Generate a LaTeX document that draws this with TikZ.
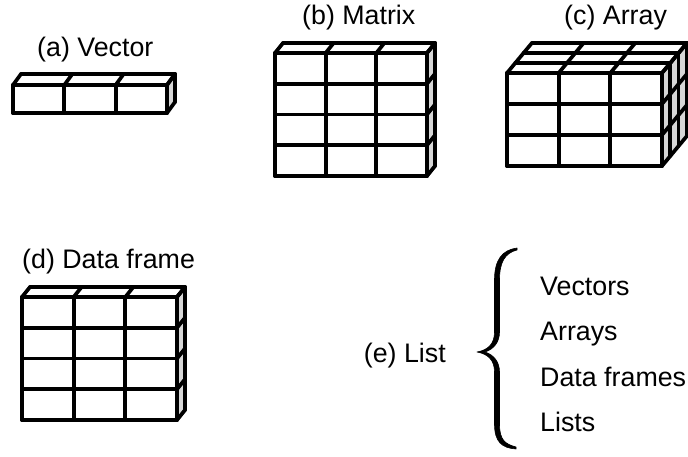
\documentclass[tikz,border=0pt]{standalone}
\usepackage{fontspec}
\setmainfont{Liberation Sans}
\definecolor{sidegray}{RGB}{215,215,215}
\tikzset{
  gridline/.style={line width=3.7pt, line join=round, line cap=round, black},
  lbl/.style={inner sep=0pt, font=\fontsize{26.8}{30}\selectfont},
  bracefill/.style={fill=black, draw=black, line width=0.6pt, line join=round}
}
% #1 x0, #2 y0, #3 width, #4 height, #5 cols, #6 rows, #7 layers, #8 dx per layer, #9 dy per layer
\newcommand{\cubegrid}[9]{%
  \pgfmathsetmacro\cw{#3/#5}%
  \pgfmathsetmacro\ch{#4/#6}%
  \pgfmathsetmacro\DX{#8*#7}%
  \pgfmathsetmacro\DY{#9*#7}%
  \pgfmathsetmacro\xr{#1+#3}%
  \pgfmathsetmacro\yb{#2+#4}%
  \fill[sidegray] (\xr,#2) -- ({\xr+\DX},{#2+\DY}) -- ({\xr+\DX},{\yb+\DY}) -- (\xr,\yb) -- cycle;
  \fill[white] (#1,#2) -- ({#1+\DX},{#2+\DY}) -- ({\xr+\DX},{#2+\DY}) -- (\xr,#2) -- cycle;
  \fill[white] (#1,#2) rectangle (\xr,\yb);
  \foreach \i in {0,...,#5} {\pgfmathsetmacro\xx{#1+\i*\cw}
    \draw[gridline] (\xx,#2) -- (\xx,\yb);
    \draw[gridline] (\xx,#2) -- ({\xx+\DX},{#2+\DY});}
  \foreach \j in {0,...,#6} {\pgfmathsetmacro\yy{#2+\j*\ch}
    \draw[gridline] (#1,\yy) -- (\xr,\yy);
    \draw[gridline] (\xr,\yy) -- ({\xr+\DX},{\yy+\DY});}
  \foreach \k in {1,...,#7} {\pgfmathsetmacro\ox{\k*#8}\pgfmathsetmacro\oy{\k*#9}
    \draw[gridline] ({#1+\ox},{#2+\oy}) -- ({\xr+\ox},{#2+\oy});
    \draw[gridline] ({\xr+\ox},{#2+\oy}) -- ({\xr+\ox},{\yb+\oy});}
}
\begin{document}
\begin{tikzpicture}[x=1pt,y=-1pt]
\useasboundingbox (0,0) rectangle (688,457);
% (a) Vector
\cubegrid{13}{85}{154}{28}{3}{1}{1}{8}{-11}
\node[lbl, anchor=base west] (la) at (37,57) {(a) Vector};
% (b) Matrix
\cubegrid{275}{53}{152}{123}{3}{4}{1}{8}{-10}
\node[lbl, anchor=base west] (lb) at (302,25) {(b) Matrix};
% (c) Array
\cubegrid{507}{73}{155}{93}{3}{3}{3}{8.3}{-10}
\node[lbl, anchor=base west] (lc) at (564,25) {(c) Array};
% (d) Data frame
\cubegrid{22}{297}{155}{123}{3}{4}{1}{8}{-10}
\node[lbl, anchor=base west] (ld) at (22,268) {(d) Data frame};
% (e) List
\node[lbl, anchor=base east] (le) at (446,362) {(e) List};
\fill[bracefill] (517,248) .. controls (502,250) and (494.5,260) .. (494.5,280) -- (494.5,332)
  .. controls (494.5,344) and (488,350) .. (477,352)
  .. controls (488,354) and (494.5,360) .. (494.5,372) -- (494.5,424)
  .. controls (494.5,442) and (502,448) .. (516,449) -- (516,447)
  .. controls (505,444) and (499.5,440) .. (499.5,424) -- (499.5,372)
  .. controls (499.5,362) and (494,355) .. (485,352)
  .. controls (494,349) and (499.5,342) .. (499.5,332) -- (499.5,280)
  .. controls (499.5,262) and (505,253) .. (517,250) -- cycle;
\node[lbl, anchor=base west] (i1) at (540,295) {Vectors};
\node[lbl, anchor=base west] (i2) at (540,340) {Arrays};
\node[lbl, anchor=base west] (i3) at (540,386) {Data frames};
\node[lbl, anchor=base west] (i4) at (540,431) {Lists};
\end{tikzpicture}
\end{document}
